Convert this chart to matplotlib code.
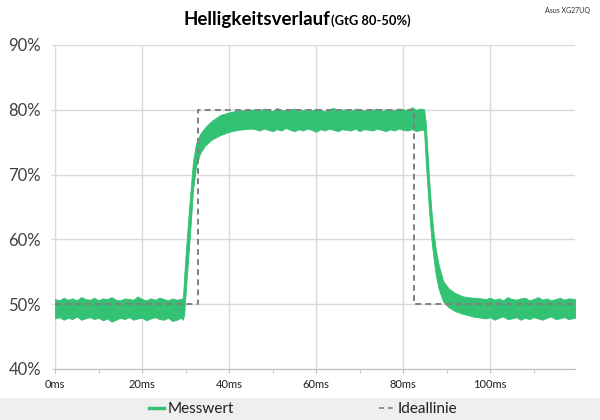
import matplotlib
matplotlib.use("Agg")
import matplotlib.pyplot as plt
from matplotlib.patches import Rectangle
from matplotlib.ticker import MultipleLocator, FuncFormatter

# === data ===
# measured signal envelope: time in ms, upper / lower edge of the noisy trace in %
base_t = list(range(0, 30))
base_up = [50.8, 50.6, 51.0, 50.7, 50.9, 50.6, 51.1, 50.8, 50.7, 51.0,
           50.6, 50.9, 50.8, 51.1, 50.7, 50.6, 50.9, 50.8, 50.7, 51.2,
           50.8, 50.6, 50.9, 50.7, 51.0, 50.8, 50.6, 50.9, 50.7, 50.8]
base_lo = [47.8, 48.0, 47.6, 47.9, 47.7, 48.1, 47.6, 47.8, 48.0, 47.7,
           47.9, 47.5, 47.8, 47.3, 47.6, 47.9, 47.7, 48.0, 47.6, 47.8,
           47.9, 47.5, 47.8, 48.0, 47.7, 47.6, 47.9, 47.4, 47.6, 47.9]

rise_t = [29.4, 29.7, 30.0, 30.6, 31.2, 31.7, 32.4, 33.3, 34.5, 36, 38, 40, 42, 45]
rise_up = [51.0, 54.5, 57.5, 63.0, 68.0, 72.0, 74.8, 76.2, 77.3, 78.3, 79.2, 79.6, 79.9, 80.0]
rise_lo = [47.6, 48.5, 51.5, 57.0, 62.5, 67.5, 71.2, 73.2, 74.5, 75.4, 76.1, 76.6, 76.9, 77.1]

plat_t = list(range(46, 85))
plat_up = [80.1, 79.9, 80.2, 80.0, 79.8, 80.3, 80.0, 79.9, 80.1, 80.2,
           79.8, 80.0, 80.1, 79.9, 80.2, 80.0, 79.8, 80.1, 80.3, 79.9,
           80.0, 80.1, 79.8, 80.2, 80.0, 79.9, 80.1, 80.0, 80.2, 79.8,
           80.1, 79.9, 80.0, 80.2, 80.1, 79.9, 80.4, 80.0, 80.2]
plat_lo = [77.0, 76.8, 77.1, 76.9, 76.7, 77.0, 76.8, 77.2, 76.9, 76.7,
           77.0, 76.8, 77.1, 76.9, 76.6, 77.0, 76.8, 77.1, 76.9, 76.7,
           77.0, 76.9, 76.8, 77.1, 76.7, 77.0, 76.9, 76.8, 77.1, 76.9,
           76.7, 77.0, 76.8, 77.1, 76.9, 76.8, 77.0, 76.7, 76.9]

fall_t = [84.8, 85.2, 85.6, 86.0, 86.5, 87.0, 87.5, 88.2, 89.2, 90.5, 92, 93.8, 96, 98]
fall_up = [80.1, 78.0, 73.5, 69.0, 64.5, 61.0, 58.5, 56.0, 53.6, 52.4, 51.7, 51.2, 51.0, 50.9]
fall_lo = [76.9, 72.0, 68.0, 64.0, 60.0, 57.0, 54.5, 52.3, 50.4, 49.5, 48.9, 48.5, 48.1, 47.9]

tail_t = [99, 100, 101, 102, 103, 104, 105, 106, 107, 108, 109,
          110, 111, 112, 113, 114, 115, 116, 117, 118, 119.5]
tail_up = [50.8, 51.0, 50.7, 50.9, 50.6, 51.1, 50.8, 50.7, 50.9, 51.0, 50.6,
           50.8, 51.1, 50.7, 50.9, 50.6, 50.8, 51.0, 50.7, 50.9, 50.8]
tail_lo = [47.8, 48.0, 47.6, 47.9, 48.1, 47.7, 47.8, 48.0, 47.6, 47.9, 47.7,
           48.0, 47.8, 47.6, 47.9, 48.1, 47.7, 47.8, 48.0, 47.7, 47.9]

# ideal line
ideal_t = [0, 32.9, 32.9, 82.5, 82.5, 119.5]
ideal_v = [50, 50, 80, 80, 50, 50]

GREEN = "#33c173"
GRID = "#d9d9d9"
TEXT = "#404040"

plt.rcParams["font.family"] = ["Lato", "DejaVu Sans"]

fig = plt.figure(figsize=(6, 4.2), dpi=100)
ax = fig.add_axes([55 / 600, 1 - 369 / 420, 520 / 600, 324 / 420])

t = base_t + rise_t + plat_t + fall_t + tail_t
up = base_up + rise_up + plat_up + fall_up + tail_up
lo = base_lo + rise_lo + plat_lo + fall_lo + tail_lo

ax.fill_between(t, lo, up, color=GREEN, lw=0.6, edgecolor=GREEN, zorder=3)
ax.plot(ideal_t, ideal_v, color="#808080", lw=1.4, ls=(0, (3, 2.2)), zorder=4)

ax.set_xlim(0, 119.5)
ax.set_ylim(40, 90)
ax.xaxis.set_major_locator(MultipleLocator(20))
ax.xaxis.set_minor_locator(MultipleLocator(10))
ax.yaxis.set_major_locator(MultipleLocator(10))
ax.xaxis.set_major_formatter(FuncFormatter(lambda v, p: f"{v:.0f}ms"))
ax.yaxis.set_major_formatter(FuncFormatter(lambda v, p: f"{v:.0f}%"))
ax.grid(True, color=GRID, lw=1, zorder=0)
ax.set_axisbelow(True)

for s in ("top", "right"):
    ax.spines[s].set_visible(False)
ax.spines["left"].set_color(GRID)
ax.spines["bottom"].set_color("#bfbfbf")
ax.tick_params(axis="y", length=3, color=GRID, labelsize=12, labelcolor=TEXT, pad=7)
ax.tick_params(axis="x", which="major", length=3, color="#bfbfbf", labelsize=8,
               labelcolor="#202020", pad=4)
ax.tick_params(axis="x", which="minor", length=3, color="#bfbfbf")

# title
fig.text(330 / 600, 1 - 25 / 420, "Helligkeitsverlauf", ha="right", va="baseline",
         fontsize=13.5, fontweight="bold", color="#000000")
fig.text(331 / 600, 1 - 25 / 420, "(GtG 80-50%)", ha="left", va="baseline",
         fontsize=9.3, fontweight="bold", color="#000000")
fig.text(590 / 600, 1 - 10 / 420, "Asus XG27UQ", ha="right", va="center",
         fontsize=5, color="#303030")

# legend band at the bottom
fig.patches.append(Rectangle((0, 0), 1, 22 / 420, transform=fig.transFigure,
                             facecolor="#efefef", edgecolor="none", zorder=0))
h1, = ax.plot([], [], color=GREEN, lw=2.5, label="Messwert")
h2, = ax.plot([], [], color="#808080", lw=1.2, ls=(0, (3, 2.2)), label="Ideallinie")
fig.legend(handles=[h1, h2], loc="center", bbox_to_anchor=(303 / 600, 11 / 420),
           ncol=2, frameon=False, fontsize=11, handlelength=1.0, handletextpad=0.2,
           columnspacing=9.5, labelcolor="#202020")

fig.savefig("out.png", dpi=100)
